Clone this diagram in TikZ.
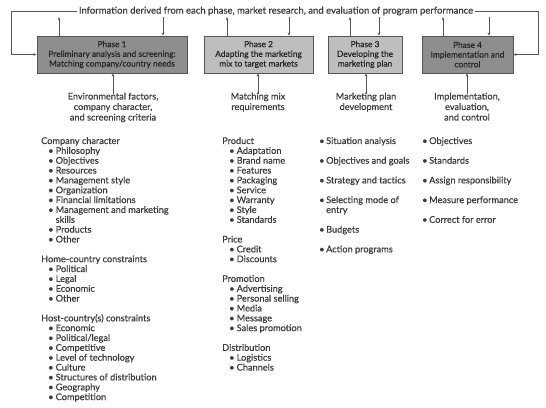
\documentclass[tikz,border=0pt]{standalone}
\usepackage{fontspec}
\setmainfont{Lato}
\newfontfamily\med[FakeBold=0.6]{Lato}
\usetikzlibrary{arrows.meta}
\definecolor{txt}{HTML}{3C3C3C}
\definecolor{edge}{HTML}{555555}
\definecolor{dark}{HTML}{8E8E8E}
\definecolor{light}{HTML}{BEBEBE}
\newcommand\itm[1]{\hspace*{7pt}\makebox[7.5pt][l]{•}#1}
\newcommand\itmb[1]{\makebox[7pt][l]{•}#1}
\tikzset{
  x=1pt,y=-1pt,
  arr/.style={draw=edge,line width=0.6pt,-{Stealth[length=3.2pt,width=2.6pt]}},
  phase/.style={draw=edge,line width=0.8pt,inner sep=0pt,minimum height=37pt,align=center,
    text=black!85,font=\med\fontsize{8.4}{9.7}\selectfont},
  captext/.style={inner sep=0pt,align=center,text=txt,font=\med\fontsize{9.2}{10.5}\selectfont,anchor=north},
  lst/.style={inner sep=0pt,align=left,text=txt,font=\med\fontsize{9.2}{9.85}\selectfont,anchor=north west},
}
\begin{document}
\begin{tikzpicture}
\useasboundingbox (0,0) rectangle (546,407);
% top text
\node[inner sep=2pt,text=txt,font=\med\fontsize{9.5}{10}\selectfont] (info) at (276,11)
  {Information derived from each phase, market research, and evaluation of program performance};
% phase boxes
\node[phase,fill=dark,minimum width=150pt] (p1) at (112,54.5)
  {Phase 1\\Preliminary analysis and screening:\\Matching company/country needs};
\node[phase,fill=light,minimum width=109pt] (p2) at (258.5,54.5)
  {Phase 2\\Adapting the marketing\\mix to target markets};
\node[phase,fill=light,minimum width=74pt] (p3) at (365,54.5)
  {Phase 3\\Developing the\\marketing plan};
\node[phase,fill=dark,minimum width=91pt] (p4) at (467.5,54.5)
  {Phase 4\\Implementation and\\control};
% feedback loops
\coordinate (lc) at (11,11);
\coordinate (rc) at (538,11);
\draw[arr] (info.west) -- (lc) -- (lc |- p1.west) -- (p1.west);
\draw[arr] (info.east) -- (rc) -- (rc |- p4.east) -- (p4.east);
% up/down arrows
\foreach \u/\d/\p in {59/163/p1, 227/289/p2, 350/379/p3, 443/489/p4}{
  \coordinate (u\p) at (\u,17);
  \coordinate (d\p) at (\d,17);
  \draw[arr] (\p.north -| u\p) -- (u\p);
  \draw[arr] (d\p) -- (d\p |- \p.north);
}
% captions
\node[captext] (c1) at (113,92.5) {Environmental factors,\\company character,\\and screening criteria};
\node[captext] (c2) at (258,92.5) {Matching mix\\requirements};
\node[captext] (c3) at (366,92.5) {Marketing plan\\development};
\node[captext] (c4) at (467,92.5) {Implementation,\\evaluation,\\and control};
\foreach \i in {1,2,3,4}{
  \draw[arr] ([yshift=-1.5pt]c\i.north) -- (c\i.north |- p\i.south);
}
% lists
\node[lst] (l1) at (41,137) {Company character\\
\itm{Philosophy}\\
\itm{Objectives}\\
\itm{Resources}\\
\itm{Management style}\\
\itm{Organization}\\
\itm{Financial limitations}\\
\itm{Management and marketing}\\
\hspace*{14.5pt}skills\\
\itm{Products}\\
\itm{Other}\\[9.85pt]
Home-country constraints\\
\itm{Political}\\
\itm{Legal}\\
\itm{Economic}\\
\itm{Other}\\[9.85pt]
Host-country(s) constraints\\
\itm{Economic}\\
\itm{Political/legal}\\
\itm{Competitive}\\
\itm{Level of technology}\\
\itm{Culture}\\
\itm{Structures of distribution}\\
\itm{Geography}\\
\itm{Competition}};
\node[lst] (l2) at (222,137) {Product\\
\itm{Adaptation}\\
\itm{Brand name}\\
\itm{Features}\\
\itm{Packaging}\\
\itm{Service}\\
\itm{Warranty}\\
\itm{Style}\\
\itm{Standards}\\[9.85pt]
Price\\
\itm{Credit}\\
\itm{Discounts}\\[9.85pt]
Promotion\\
\itm{Advertising}\\
\itm{Personal selling}\\
\itm{Media}\\
\itm{Message}\\
\itm{Sales promotion}\\[9.85pt]
Distribution\\
\itm{Logistics}\\
\itm{Channels}};
\node[lst] (l3) at (319,137) {\itmb{Situation analysis}\\[9.85pt]
\itmb{Objectives and goals}\\[9.85pt]
\itmb{Strategy and tactics}\\[9.85pt]
\itmb{Selecting mode of}\\
\hspace*{7pt}entry\\[9.85pt]
\itmb{Budgets}\\[9.85pt]
\itmb{Action programs}};
\node[lst] (l4) at (422,137) {\itmb{Objectives}\\[9.85pt]
\itmb{Standards}\\[9.85pt]
\itmb{Assign responsibility}\\[9.85pt]
\itmb{Measure performance}\\[9.85pt]
\itmb{Correct for error}};
\end{tikzpicture}
\end{document}
